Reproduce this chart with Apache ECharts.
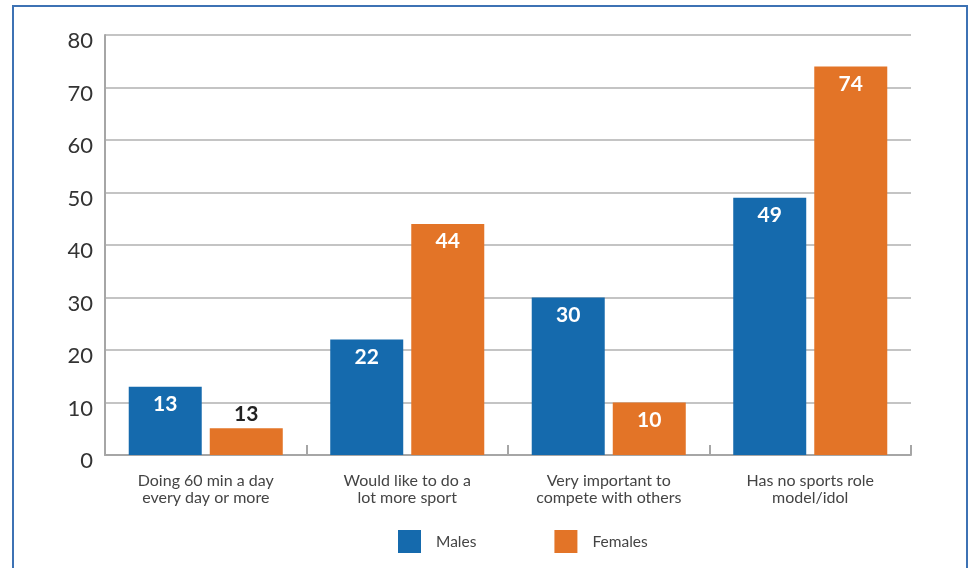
<!DOCTYPE html>
<html>
<head>
<meta charset="utf-8">
<script src="https://cdn.jsdelivr.net/npm/echarts@6/dist/echarts.min.js"></script>
<style>
html,body{margin:0;padding:0;background:#fff;}
#c{width:971px;height:568px;}
</style>
</head>
<body>
<div id="c"></div>
<script>
const categories = ['Doing 60 min a day\nevery day or more', 'Would like to do a\nlot more sport', 'Very important to\ncompete with others', 'Has no sports role\nmodel/idol'];
const males = [13, 22, 30, 49];
const females = [5.1, 44, 10, 74];
const maleLabels = ['13', '22', '30', '49'];
const femaleLabels = ['13', '44', '10', '74'];
const yTicks = [0, 10, 20, 30, 40, 50, 60, 70, 80];

const chart = echarts.init(document.getElementById('c'));
const FONT = 'Lato, "Noto Sans", sans-serif';
function mkData(vals){
  return vals.map(v => ({
    value: v,
    label: v < 8 ? {position: 'top', distance: 3, color: '#222'} : {}
  }));
}
chart.setOption({
  animation: false,
  graphic: [{
    type: 'rect', shape: {x: 13, y: 6, width: 954, height: 600},
    style: {fill: 'none', stroke: '#3d72b4', lineWidth: 2}, silent: true, z: 100
  }],
  grid: {left: 105, right: 60, top: 35, bottom: 113},
  legend: {
    left: 398, top: 530, padding: 0, itemWidth: 23, itemHeight: 23, itemGap: 78,
    icon: 'rect',
    textStyle: {fontFamily: FONT, fontSize: 15.5, color: '#444', padding: [0, 0, 0, 10]},
    data: ['Males', 'Females']
  },
  xAxis: {
    type: 'category', data: categories,
    axisLine: {lineStyle: {color: '#a6a6a6', width: 2}},
    axisTick: {show: true, inside: true, length: 10, lineStyle: {color: '#a6a6a6', width: 2}},
    axisLabel: {interval: 0, margin: 17, fontFamily: FONT, fontSize: 16, color: '#444', lineHeight: 17}
  },
  yAxis: {
    type: 'value', min: 0, max: 80, interval: 10,
    axisLine: {show: true, lineStyle: {color: '#a6a6a6', width: 2}},
    axisTick: {show: false},
    splitLine: {lineStyle: {color: '#b0b0b0', width: 1.5}},
    axisLabel: {margin: 12, fontFamily: FONT, fontSize: 22, color: '#333', verticalAlign: 'top', lineHeight: 12,
      formatter: v => yTicks.includes(v) ? String(v) : ''}
  },
  series: [{
    name: 'Males', type: 'bar', data: mkData(males),
    barWidth: 73, barGap: '11%',
    itemStyle: {color: '#156aad'},
    label: {show: true, position: 'insideTop', distance: 7, color: '#fff', fontFamily: FONT, fontWeight: 'bold', fontSize: 21,
      formatter: p => maleLabels[p.dataIndex]}
  }, {
    name: 'Females', type: 'bar', data: mkData(females),
    barWidth: 73,
    itemStyle: {color: '#e37427'},
    label: {show: true, position: 'insideTop', distance: 7, color: '#fff', fontFamily: FONT, fontWeight: 'bold', fontSize: 21,
      formatter: p => femaleLabels[p.dataIndex]}
  }]
});
</script>
</body>
</html>
